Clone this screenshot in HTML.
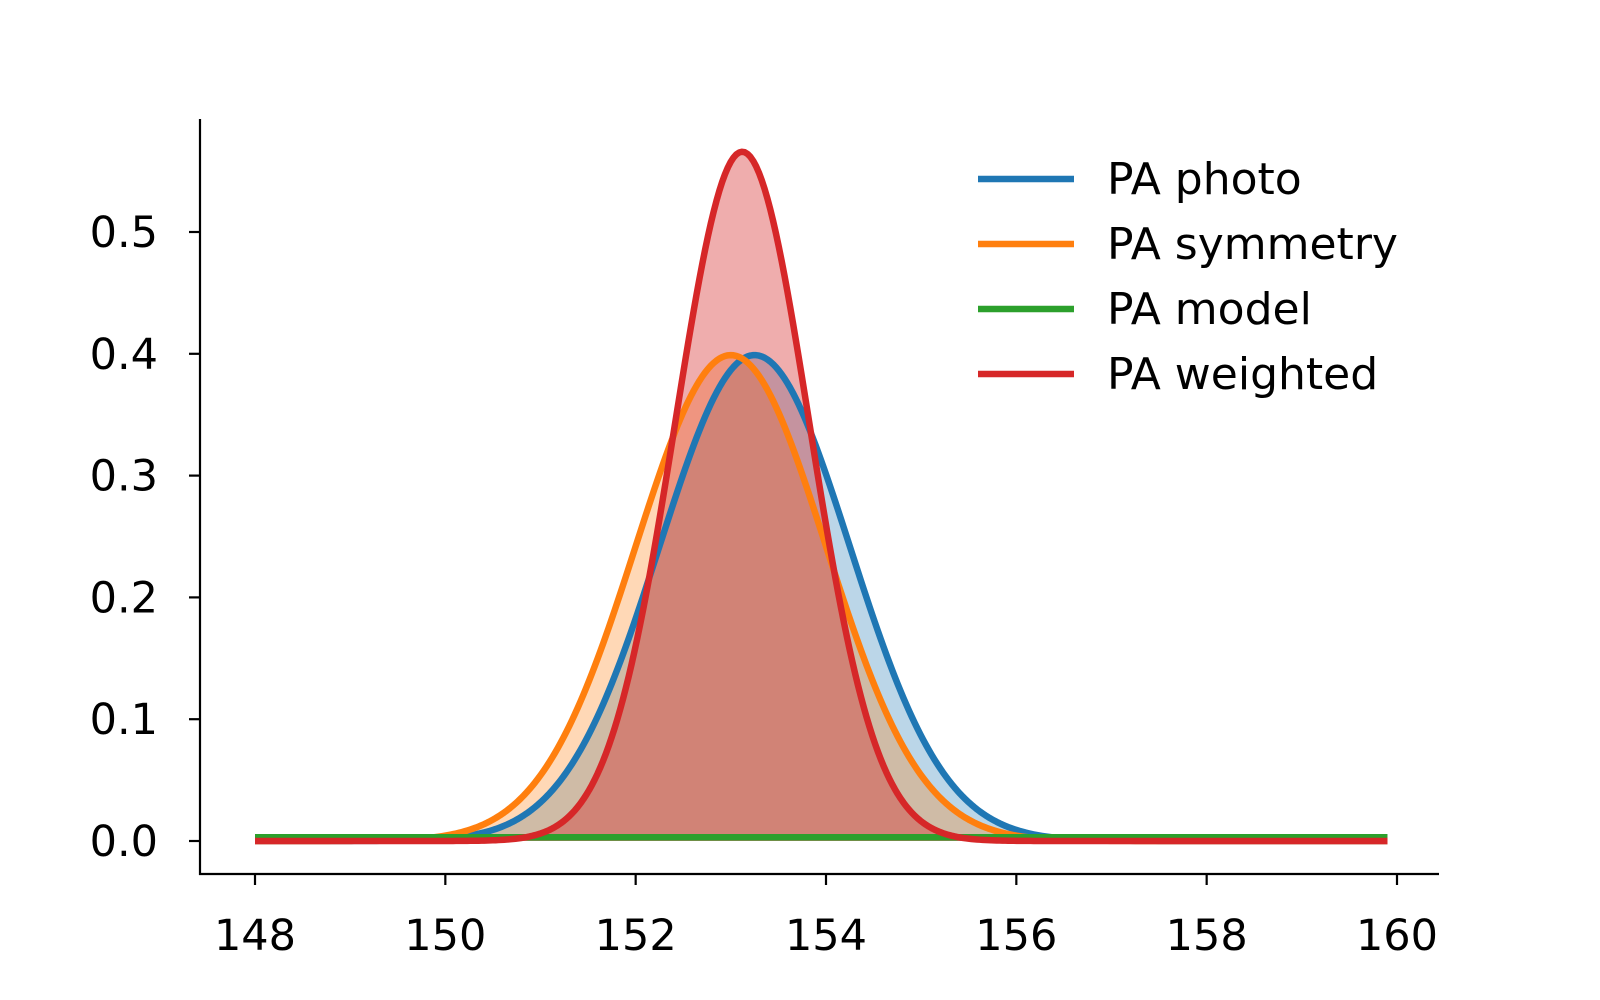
<!DOCTYPE html>
<html>
<head>
<meta charset="utf-8">
<style>
  html,body{margin:0;padding:0;background:#fff;}
  svg{display:block;}
  text{font-family:"DejaVu Sans","Liberation Sans",sans-serif;fill:#000;}
</style>
</head>
<body>
<svg id="chart" width="1600" height="1000" viewBox="0 0 1600 1000" xmlns="http://www.w3.org/2000/svg">
  <g id="fills"></g>
  <g id="lines"></g>
  <g id="axes"></g>
  <g id="legend"></g>
</svg>
<script>
const seriesNames = ["PA photo", "PA symmetry", "PA model", "PA weighted"];
const seriesMeans = [153.25, 153.0, 153.0, 153.12];
const seriesSigmas = [1.0, 1.0, 130, 0.705];
const seriesColors = ["#1f77b4", "#ff7f0e", "#2ca02c", "#d62728"];
const seriesAlphas = [0.3, 0.3, 0.3, 0.38];
const xTicks = [148, 150, 152, 154, 156, 158, 160];
const yTicks = [0.0, 0.1, 0.2, 0.3, 0.4, 0.5];
const xRange = [148, 159.9];

const NS = "http://www.w3.org/2000/svg";
function xs(v){ return 255 + (v - 148) * (1397 - 255) / 12; }
function ys(v){ return 841 - v * (841 - 232) / 0.5; }
function mk(tag, attrs, parent){
  const el = document.createElementNS(NS, tag);
  for (const k in attrs) el.setAttribute(k, attrs[k]);
  parent.appendChild(el);
  return el;
}
function pdf(x, m, s){ return Math.exp(-0.5 * ((x - m) / s) ** 2) / (s * Math.sqrt(2 * Math.PI)); }

const fills = document.getElementById("fills");
const lines = document.getElementById("lines");
const axes = document.getElementById("axes");
const legend = document.getElementById("legend");

seriesNames.forEach((name, i) => {
  const pts = [];
  const N = 400;
  for (let k = 0; k <= N; k++) {
    const x = xRange[0] + (xRange[1] - xRange[0]) * k / N;
    pts.push([xs(x), ys(pdf(x, seriesMeans[i], seriesSigmas[i]))]);
  }
  const d = pts.map((p, k) => (k ? "L" : "M") + p[0].toFixed(2) + " " + p[1].toFixed(2)).join(" ");
  const fd = d + " L" + xs(xRange[1]).toFixed(2) + " " + ys(0) + " L" + xs(xRange[0]).toFixed(2) + " " + ys(0) + " Z";
  const f = mk("path", {d: fd, fill: seriesColors[i], "fill-opacity": seriesAlphas[i], stroke: "none"}, fills);
  
  
  const l = mk("path", {d: d, fill: "none", stroke: seriesColors[i], "stroke-width": 6.5, "stroke-linejoin": "round"}, lines);
  
  

  const ly = 179 + i * 65;
  const ll = mk("line", {x1: 978, x2: 1074, y1: ly, y2: ly, stroke: seriesColors[i], "stroke-width": 6.5}, legend);
  
  
  const lt = mk("text", {x: 1107, y: ly + 15, "font-size": 44}, legend);
  lt.textContent = name;
  
  
});

const ls = mk("line", {x1: 200, x2: 200, y1: 119, y2: 875, stroke: "#000", "stroke-width": 2.2}, axes);


const bs = mk("line", {x1: 199, x2: 1439, y1: 874, y2: 874, stroke: "#000", "stroke-width": 2.2}, axes);



xTicks.forEach(v => {
  const t = mk("line", {x1: xs(v), x2: xs(v), y1: 874, y2: 885, stroke: "#000", "stroke-width": 2.2}, axes);
  
  
  const tx = mk("text", {x: xs(v), y: 950, "font-size": 43, "text-anchor": "middle"}, axes);
  tx.textContent = v;
  
  
});
yTicks.forEach(v => {
  const t = mk("line", {x1: 189, x2: 200, y1: ys(v), y2: ys(v), stroke: "#000", "stroke-width": 2.2}, axes);
  
  
  const tx = mk("text", {x: 158, y: ys(v) + 15, "font-size": 43, "text-anchor": "end"}, axes);
  tx.textContent = v.toFixed(1);
  
  
});
</script>
</body>
</html>
